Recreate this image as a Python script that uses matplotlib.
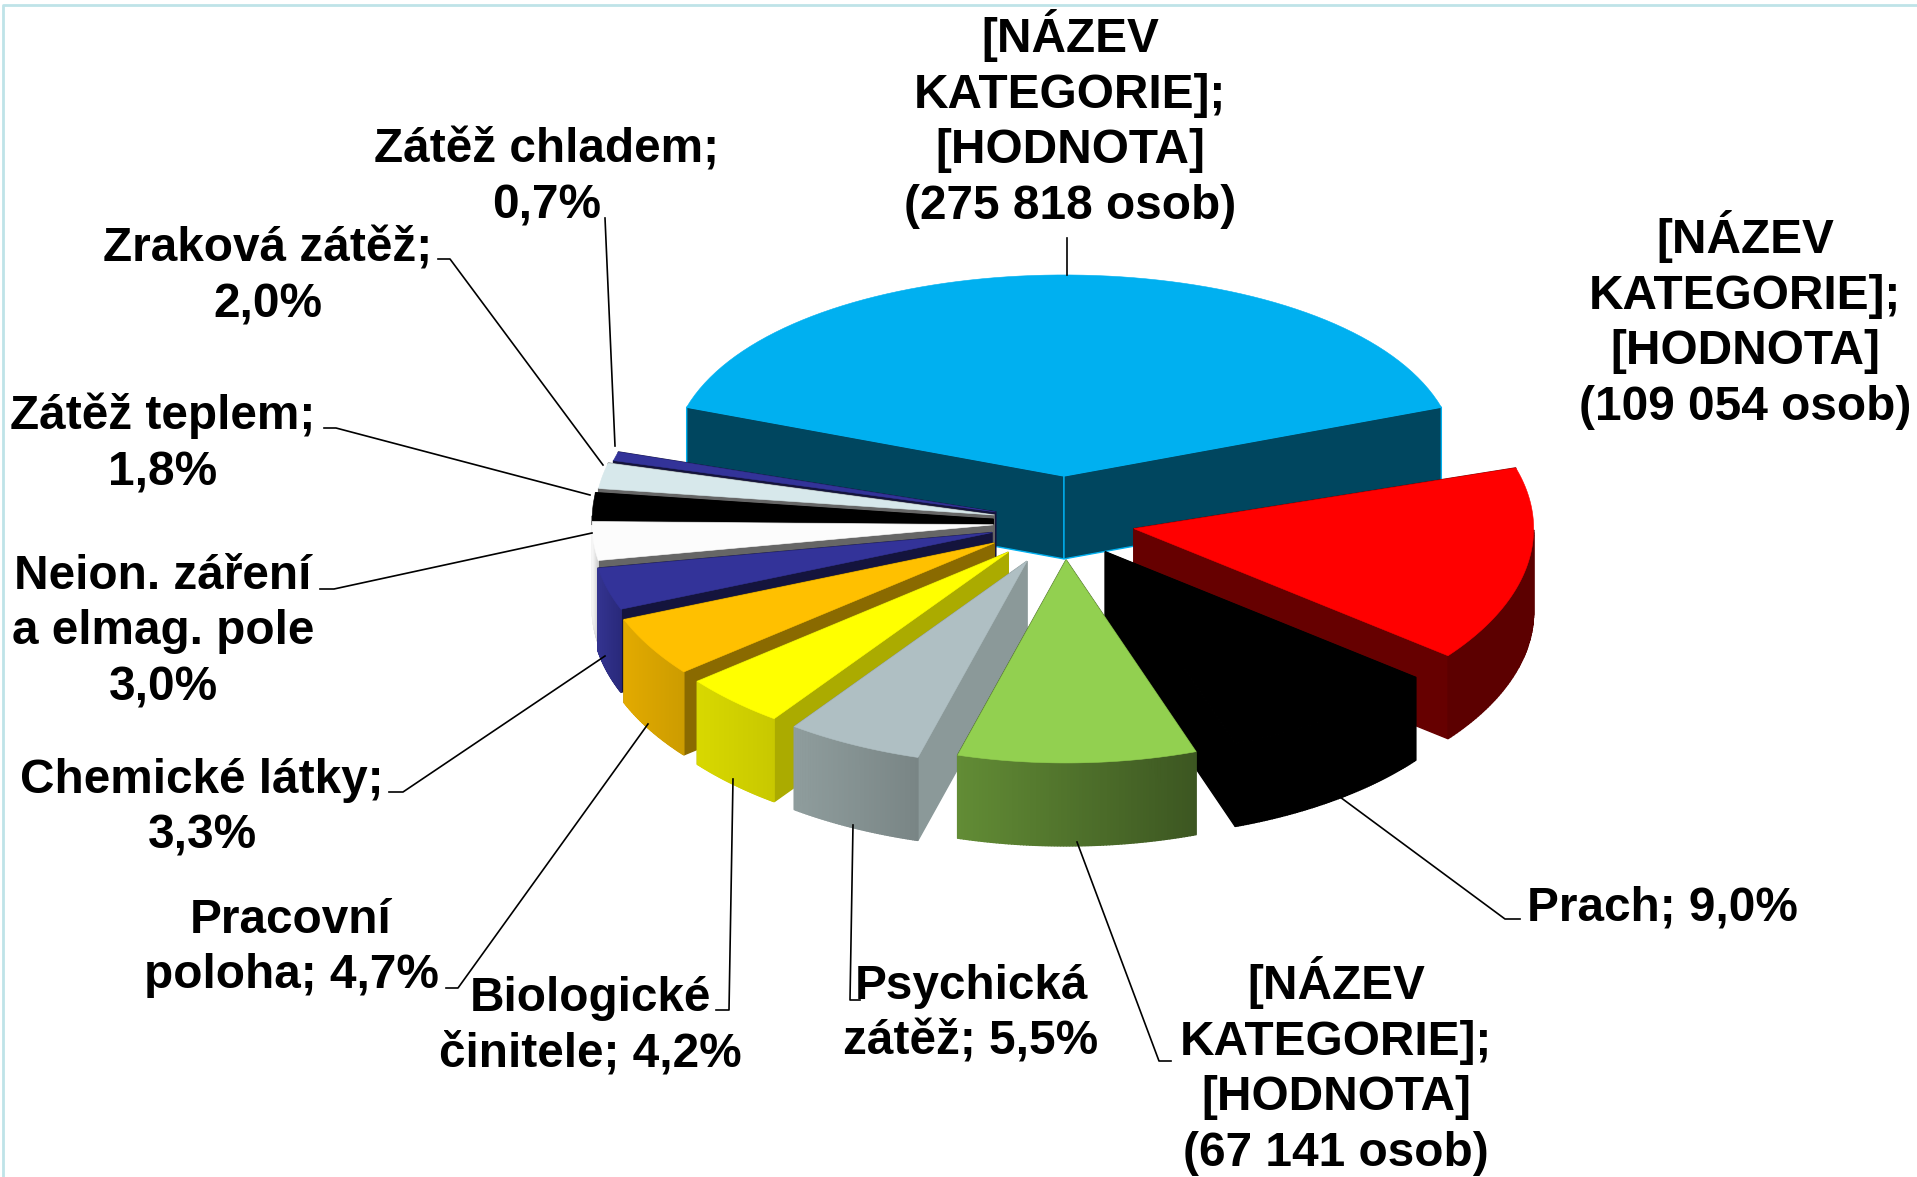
import numpy as np
import matplotlib
matplotlib.use('Agg')
import matplotlib.pyplot as plt

# podily v procentech, poradi po smeru hodin od modre vysece
kategorie = ['Hluk', 'Vibrace', 'Prach', 'Fyzicka zatez', 'Psychicka zatez', 'Biologicke cinitele',
             'Pracovni poloha', 'Chemicke latky', 'Neion. zareni', 'Zatez teplem', 'Zrakova zatez', 'Zatez chladem']
hodnoty = [40.2, 15.3, 9.0, 9.7, 5.5, 4.2, 4.7, 3.3, 3.0, 1.8, 2.0, 0.7]

popisky = ['[NÁZEV\nKATEGORIE];\n[HODNOTA]\n(275 818 osob)',
           '[NÁZEV\nKATEGORIE];\n[HODNOTA]\n(109 054 osob)',
           'Prach; {}',
           '[NÁZEV\nKATEGORIE];\n[HODNOTA]\n(67 141 osob)',
           'Psychická\nzátěž; {}',
           'Biologické\nčinitele; {}',
           'Pracovní\npoloha; {}',
           'Chemické látky;\n{}',
           'Neion. záření\na elmag. pole\n{}',
           'Zátěž teplem;\n{}',
           'Zraková zátěž;\n{}',
           'Zátěž chladem;\n{}']

# styl: vrch, rez, plast vlevo, plast vpravo
barvy_vrch = ['#00B0F0', '#FF0000', '#000000', '#92D050', '#AFBFC3', '#FFFF00',
              '#FFC000', '#333399', '#FCFCFC', '#000000', '#D7E8EB', '#333399']
barvy_rez = ['#00465F', '#660000', '#000000', '#3E5822', '#8B9999', '#ABAB00',
             '#8A6A00', '#14143D', '#666666', '#000000', '#666666', '#14143D']
plast_l = ['#00465F', '#5C0000', '#000000', '#628C35', '#8F9D9D', '#D8D800',
           '#E2AA00', '#33338F', '#F5F5F5', '#000000', '#D7E8EB', '#14143D']
plast_p = ['#00465F', '#5C0000', '#000000', '#3C5621', '#798585', '#C8C800',
           '#CC9C00', '#29297A', '#C8C8C8', '#000000', '#D7E8EB', '#14143D']
vysunuti = [0.227, 0.18, 0.18, 0.187, 0.215, 0.205, 0.205, 0.19, 0.18, 0.18, 0.18, 0.18]
polomer = [1.0, 1.012, 1.0, 1.0, 1.005, 1.012, 1.01, 1.012, 1.015, 1.015, 1.01, 1.0]
poradi = [0, 11, 10, 9, 8, 7, 6, 5, 4, 1, 2, 3]

cx, cy = 1064, 522
rx, ry = 395, 203
hloubka = 83

# pozice popisku: stred x, stred y, zarovnani
pozice = [(1070, 119, 'center'), (1745, 320, 'center'), (1527, 908, 'left'), (1336, 1066, 'center'),
          (971, 1014, 'center'), (590, 1026, 'center'), (291, 948, 'center'), (202, 808, 'center'),
          (163, 632, 'center'), (163, 444, 'center'), (268, 277, 'center'), (547, 178, 'center')]
vodici = [[(1067, 238), (1067, 275)],
          None,
          [(1340, 797), (1505, 919), (1520, 919)],
          [(1077, 842), (1159, 1061), (1171, 1061)],
          [(853, 825), (850, 1000), (860, 1000)],
          [(733, 779), (729, 1010), (716, 1010)],
          [(648, 724), (458, 988), (446, 988)],
          [(605, 656), (403, 792), (389, 792)],
          [(592, 533), (334, 589), (320, 589)],
          [(590, 495), (336, 428), (324, 428)],
          [(603, 465), (450, 259), (438, 259)],
          [(615, 446), (605, 218)]]


def mix(c1, c2, t):
    a = np.array(matplotlib.colors.to_rgb(c1))
    b = np.array(matplotlib.colors.to_rgb(c2))
    return tuple(a + (b - a) * t)


fig = plt.figure(figsize=(19.17, 11.77), dpi=100)
ax = fig.add_axes([0, 0, 1, 1])
ax.set_xlim(0, 1917)
ax.set_ylim(1177, 0)
ax.axis('off')

# ramecek nahore a vlevo
ax.plot([2.5, 2.5, 1917], [1177, 4.5, 4.5], color='#BFE3E8', lw=2)

hv = np.array(hodnoty)
soucet = hv.sum()
konce = np.cumsum(hv) / soucet * 360
zacatky = konce - hv / soucet * 360
# modra vysec je stredem nahore
posun = -(konce[0] / 2)
zacatky = np.radians(zacatky + posun)
konce = np.radians(konce + posun)

for i in poradi:
    a, b = zacatky[i], konce[i]
    s = (a + b) / 2
    px = cx + vysunuti[i] * rx * np.sin(s)
    py = cy - vysunuti[i] * ry * np.cos(s)
    t = np.linspace(a, b, 80)
    xo = px + rx * polomer[i] * np.sin(t)
    if i == 0:
        # zadni okraj modre vysece je v perspektive vys
        yo = py - 0.99 * ry * np.abs(np.cos(t)) ** 0.88
    else:
        yo = py - ry * polomer[i] * np.cos(t)

    # rezy
    hrana = '#00B0F0' if i == 0 else barvy_rez[i]
    for k in [0, -1]:
        ax.fill([px, xo[k], xo[k], px], [py, yo[k], yo[k] + hloubka, py + hloubka],
                facecolor=barvy_rez[i], edgecolor=hrana, lw=1.0, zorder=1)

    # plast jen na predni strane
    pi = np.pi
    norm = np.mod(t, 2 * pi)
    maska = (norm > pi / 2) & (norm < 3 * pi / 2)
    xr = xo[maska]
    yr = yo[maska]
    if len(xr) > 1:
        x1, x2 = xr.min(), xr.max()
        for j in range(len(xr) - 1):
            c = mix(plast_l[i], plast_p[i], ((xr[j] + xr[j + 1]) / 2 - x1) / (x2 - x1))
            ax.fill([xr[j], xr[j + 1], xr[j + 1], xr[j]],
                    [yr[j], yr[j + 1], yr[j + 1] + hloubka, yr[j] + hloubka],
                    facecolor=c, edgecolor=c, lw=1.0, zorder=1)

    # vrch
    ax.fill(np.r_[px, xo], np.r_[py, yo], facecolor=barvy_vrch[i], edgecolor=barvy_vrch[i], lw=0.4, zorder=1)

for i in range(len(hodnoty)):
    text = popisky[i].format(f'{hodnoty[i]:.1f}'.replace('.', ',') + '%')
    x, y, zar = pozice[i]
    ax.text(x, y, text, ha=zar, va='center', multialignment='center', family='Liberation Sans',
            weight='bold', fontsize=34.4, linespacing=1.31, color='black', zorder=3)
    if vodici[i] is not None:
        ax.plot(*zip(*vodici[i]), color='black', lw=1.2, zorder=2)

fig.savefig('out.png', dpi=100, facecolor='white')
